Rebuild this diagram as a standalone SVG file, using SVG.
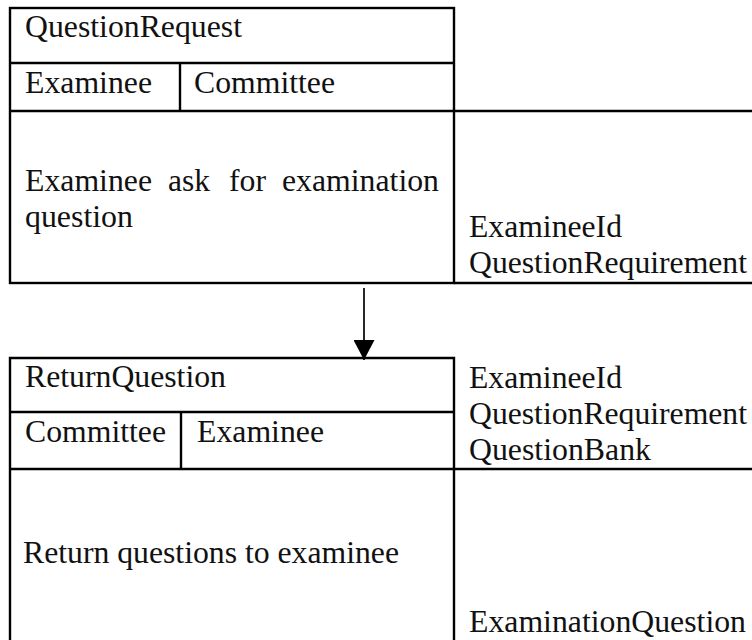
<svg xmlns="http://www.w3.org/2000/svg" width="752" height="640" viewBox="0 0 752 640">
  <style>
    .frame { fill: none; stroke: #000; stroke-width: 2.4; }
    .rule { stroke: #000; stroke-width: 2.4; fill: none; }
    .label { font-family: "Liberation Serif", "Times New Roman", serif; font-size: 31.7px; fill: #111; }
    .link { stroke: #000; stroke-width: 1.7; fill: none; }
  </style>
  <defs>
    <marker id="arrowhead" markerUnits="userSpaceOnUse" viewBox="0 0 20 21" refX="20" refY="10.5" markerWidth="20" markerHeight="21" orient="auto">
      <path d="M0,0 L20,10.5 L0,21 Z" fill="#000"/>
    </marker>
  </defs>
  <rect width="752" height="640" fill="#fff"/>

  <!-- Process: QuestionRequest -->
  <g id="question-request">
    <rect class="frame" x="10" y="8" width="444" height="275"/>
    <line class="rule" x1="10" y1="63" x2="454" y2="63"/>
    <line class="rule" x1="10" y1="111" x2="752" y2="111"/>
    <line class="rule" x1="454" y1="283" x2="752" y2="283"/>
    <line class="rule" x1="180" y1="63" x2="180" y2="111"/>
    <text class="label" x="25" y="37" textLength="217" lengthAdjust="spacingAndGlyphs">QuestionRequest</text>
    <text class="label" x="25" y="93" textLength="127" lengthAdjust="spacingAndGlyphs">Examinee</text>
    <text class="label" x="194" y="93" textLength="141" lengthAdjust="spacingAndGlyphs">Committee</text>
    <text class="label" x="25" y="191" textLength="127" lengthAdjust="spacingAndGlyphs">Examinee</text>
    <text class="label" x="168" y="191" textLength="42" lengthAdjust="spacingAndGlyphs">ask</text>
    <text class="label" x="229" y="191" textLength="37" lengthAdjust="spacingAndGlyphs">for</text>
    <text class="label" x="282" y="191" textLength="157" lengthAdjust="spacingAndGlyphs">examination</text>
    <text class="label" x="25" y="227" textLength="108" lengthAdjust="spacingAndGlyphs">question</text>
    <text class="label" x="469" y="237" textLength="153" lengthAdjust="spacingAndGlyphs">ExamineeId</text>
    <text class="label" x="469" y="273" textLength="278" lengthAdjust="spacingAndGlyphs">QuestionRequirement</text>
  </g>

  <!-- Process: ReturnQuestion -->
  <g id="return-question">
    <path class="rule" d="M10,640 L10,358 L454,358 L454,640"/>
    <line class="rule" x1="10" y1="412" x2="454" y2="412"/>
    <line class="rule" x1="10" y1="469" x2="752" y2="469"/>
    <line class="rule" x1="181" y1="412" x2="181" y2="469"/>
    <text class="label" x="25" y="387" textLength="201" lengthAdjust="spacingAndGlyphs">ReturnQuestion</text>
    <text class="label" x="25" y="442" textLength="141" lengthAdjust="spacingAndGlyphs">Committee</text>
    <text class="label" x="197" y="442" textLength="127" lengthAdjust="spacingAndGlyphs">Examinee</text>
    <text class="label" x="469" y="388" textLength="153" lengthAdjust="spacingAndGlyphs">ExamineeId</text>
    <text class="label" x="469" y="424" textLength="278" lengthAdjust="spacingAndGlyphs">QuestionRequirement</text>
    <text class="label" x="469" y="460" textLength="182" lengthAdjust="spacingAndGlyphs">QuestionBank</text>
    <text class="label" x="23" y="563" textLength="376" lengthAdjust="spacingAndGlyphs">Return questions to examinee</text>
    <text class="label" x="469" y="632" textLength="277" lengthAdjust="spacingAndGlyphs">ExaminationQuestion</text>
  </g>

  <!-- Connectors -->
  <g id="connectors">
    <line class="link" x1="364" y1="288" x2="364" y2="360" marker-end="url(#arrowhead)"/>
  </g>
</svg>
